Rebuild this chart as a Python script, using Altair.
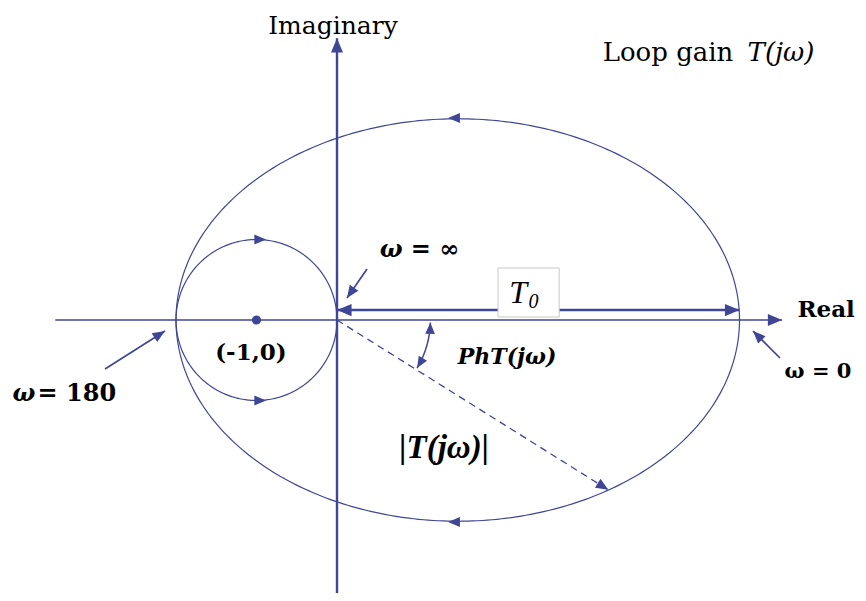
import math
import altair as alt
import pandas as pd

COLOR = "#3f4696"

# ---- geometry of the Nyquist diagram (Nyquist-plane units) ----
crit_point = (-1.0, 0.0)
small_circle = {"cx": -1.0, "r": 1.0}
ellipse = {"cx": 1.5, "rx": 3.5, "ry": 2.5}
T0 = 5.0
real_axis = (-3.5, 5.53)
imag_axis = (-3.5, 3.5)
t0_level = 0.124
mag_point = (3.37, -2.11)
phase_arc = {"r": 1.16, "a0": -31.0, "a1": -1.5}

# annotation arrows: tail (x0, y0) -> tip (x1, y1)
ann_x0 = [0.373, -2.882, 5.503]
ann_y0 = [0.634, -0.609, -0.472]
ann_x1 = [0.124, -2.137, 5.168]
ann_y1 = [0.273, -0.137, -0.137]

# direction arrows on the curves: position and heading (dx, dy)
dir_x = [1.38, 1.38, -0.88, -0.88]
dir_y = [2.51, -2.51, 1.0, -1.0]
dir_dx = [-1, -1, 1, 1]
dir_dy = [0, 0, 0, 0]

# T0 box
box = (2.0, 0.037, 2.76, 0.646)

# ---- layout ----
PX = 80.5
W, H = 850, 585
ORIG = (337, 320)
xdom = [-(ORIG[0] - 8) / PX, -(ORIG[0] - 8) / PX + W / PX]
ydom = [(ORIG[1] - 8) / PX - H / PX, (ORIG[1] - 8) / PX]
xs = alt.Scale(domain=xdom, nice=False, zero=False)
ys = alt.Scale(domain=ydom, nice=False, zero=False)


def X(f="x"):
    return alt.X(f"{f}:Q", scale=xs, axis=None)


def Y(f="y"):
    return alt.Y(f"{f}:Q", scale=ys, axis=None)


def heading(dx, dy):
    return (math.degrees(math.atan2(dx, dy)) + 360) % 360


layers = []

# axes
axes_df = pd.DataFrame({
    "x": [real_axis[0], 0.0], "y": [0.0, imag_axis[0]],
    "x2": [real_axis[1], 0.0], "y2": [0.0, imag_axis[1]],
    "w": [1.6, 2.4],
})
layers.append(alt.Chart(axes_df).mark_rule(color=COLOR).encode(
    x=X(), y=Y(), x2="x2:Q", y2="y2:Q", strokeWidth=alt.StrokeWidth("w:Q", scale=None)))

# ellipse and small circle
ell = alt.Chart(alt.sequence(0, 361, 1, as_="t")).transform_calculate(
    x=f"{ellipse['cx']} + {ellipse['rx']} * cos(datum.t * PI / 180)",
    y=f"{ellipse['ry']} * sin(datum.t * PI / 180)",
).mark_line(color=COLOR, strokeWidth=1.2).encode(x=X(), y=Y(), order="t:Q")
layers.append(ell)

circ = alt.Chart(alt.sequence(0, 361, 1, as_="t")).transform_calculate(
    x=f"{small_circle['cx']} + {small_circle['r']} * cos(datum.t * PI / 180)",
    y=f"{small_circle['r']} * sin(datum.t * PI / 180)",
).mark_line(color=COLOR, strokeWidth=1.2).encode(x=X(), y=Y(), order="t:Q")
layers.append(circ)

# phase arc
arc = alt.Chart(alt.sequence(phase_arc["a0"], phase_arc["a1"] + 0.1, 0.5, as_="t")).transform_calculate(
    x=f"{phase_arc['r']} * cos(datum.t * PI / 180)",
    y=f"{phase_arc['r']} * sin(datum.t * PI / 180)",
).mark_line(color=COLOR, strokeWidth=1.5).encode(x=X(), y=Y(), order="t:Q")
layers.append(arc)

# T0 double arrow line
t0_df = pd.DataFrame({"x": [0.0], "x2": [T0], "y": [t0_level]})
layers.append(alt.Chart(t0_df).mark_rule(color=COLOR, strokeWidth=2.6).encode(
    x=X(), x2="x2:Q", y=Y()))

# dashed magnitude line
mag_df = pd.DataFrame({"x": [0.0], "y": [0.0], "x2": [mag_point[0]], "y2": [mag_point[1]]})
layers.append(alt.Chart(mag_df).mark_rule(color=COLOR, strokeWidth=1.3, strokeDash=[7, 5]).encode(
    x=X(), y=Y(), x2="x2:Q", y2="y2:Q"))

# annotation arrows
ann_df = pd.DataFrame({"x": ann_x0, "y": ann_y0, "x2": ann_x1, "y2": ann_y1})
layers.append(alt.Chart(ann_df).mark_rule(color=COLOR, strokeWidth=1.7).encode(
    x=X(), y=Y(), x2="x2:Q", y2="y2:Q"))

# arrowheads
heads = []
heads.append((real_axis[1], 0.0, heading(1, 0), 820))
heads.append((0.0, imag_axis[1], heading(0, 1), 820))
heads.append((0.0, t0_level, heading(-1, 0), 850))
heads.append((T0, t0_level, heading(1, 0), 850))
heads.append((mag_point[0], mag_point[1], heading(mag_point[0], mag_point[1]), 620))
for a, b, c, d in zip(ann_x0, ann_y0, ann_x1, ann_y1):
    heads.append((c, d, heading(c - a, d - b), 620))
for px_, py_, dx, dy in zip(dir_x, dir_y, dir_dx, dir_dy):
    heads.append((px_, py_, heading(dx, dy), 560))
a0 = math.radians(phase_arc["a0"])
a1 = math.radians(phase_arc["a1"])
heads.append((phase_arc["r"] * math.cos(a1), phase_arc["r"] * math.sin(a1),
              heading(-math.sin(a1), math.cos(a1)), 520))
heads.append((phase_arc["r"] * math.cos(a0), phase_arc["r"] * math.sin(a0),
              heading(math.sin(a0), -math.cos(a0)), 520))
heads_df = pd.DataFrame(heads, columns=["x", "y", "ang", "sz"])
layers.append(alt.Chart(heads_df).mark_point(
    shape="M0,0L-0.42,1L0.42,1Z", filled=True, color=COLOR, opacity=1, strokeWidth=0
).encode(x=X(), y=Y(), angle=alt.Angle("ang:Q", scale=None), size=alt.Size("sz:Q", scale=None)))

# critical point
cp_df = pd.DataFrame({"x": [crit_point[0]], "y": [crit_point[1]]})
layers.append(alt.Chart(cp_df).mark_circle(color=COLOR, size=85, opacity=1).encode(x=X(), y=Y()))

# T0 box
box_df = pd.DataFrame({"x": [box[0]], "y": [box[1]], "x2": [box[2]], "y2": [box[3]]})
layers.append(alt.Chart(box_df).mark_rect(fill="white", stroke="#c8c8c8", strokeWidth=1).encode(
    x=X(), y=Y(), x2="x2:Q", y2="y2:Q"))

# texts: label, x, y, font, size, weight, style, align
texts = [
    ("Imaginary", -0.05, 3.55, "DejaVu Serif", 25, "normal", "normal", "center"),
    ("Loop gain", 3.30, 3.22, "DejaVu Serif", 26, "normal", "normal", "left"),
    ("T(jω)", 5.10, 3.22, "DejaVu Serif", 26, "normal", "italic", "left"),
    ("Real", 5.72, 0.04, "DejaVu Serif", 23, "bold", "normal", "left"),
    ("ω = 0", 5.56, -0.72, "DejaVu Serif", 21, "bold", "normal", "left"),
    ("ω", -4.03, -1.0, "DejaVu Serif", 24, "bold", "italic", "left"),
    ("= 180", -3.72, -1.0, "DejaVu Serif", 24, "bold", "normal", "left"),
    ("(-1,0)", -1.07, -0.50, "DejaVu Serif", 23, "bold", "normal", "center"),
    ("ω = ∞", 0.53, 0.78, "DejaVu Serif", 24, "bold", "italic", "left"),
    ("T", 2.14, 0.211, "Liberation Serif", 32, "normal", "italic", "left"),
    ("0", 2.38, 0.149, "Liberation Serif", 20, "normal", "italic", "left"),
    ("PhT(jω)", 1.50, -0.55, "DejaVu Serif", 22, "bold", "italic", "left"),
    ("|T(jω)|", 1.33, -1.71, "Liberation Serif", 33, "bold", "italic", "center"),
]
for lab, tx, ty, font, size, weight, style, align in texts:
    tdf = pd.DataFrame({"x": [tx], "y": [ty], "label": [lab]})
    layers.append(alt.Chart(tdf).mark_text(
        font=font, fontSize=size, fontWeight=weight, fontStyle=style, align=align,
        baseline="alphabetic", color="black"
    ).encode(x=X(), y=Y(), text="label:N"))

chart = alt.layer(*layers).properties(
    width=W, height=H, padding=0, autosize=alt.AutoSizeParams(type="none")
).configure_view(stroke=None)

chart.save("out.html", embed_options={"renderer": "svg", "actions": False})
